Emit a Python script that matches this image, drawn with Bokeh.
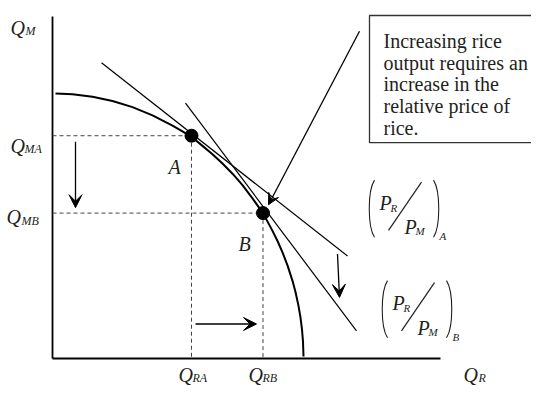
from bokeh.plotting import figure
from bokeh.models import Range1d, Arrow, VeeHead
from bokeh.core.properties import value
from bokeh.embed import file_html
from bokeh.resources import INLINE

# ---- data (diagram units, origin at the axes' corner) ----
ppf_x = [3, 20, 40, 60, 80, 100, 120, 139, 150, 160, 170, 180, 190, 200, 210.5,
         220, 225, 230, 235, 240, 243, 246, 248, 249.5, 250.5, 251]
ppf_y = [268.9, 268.1, 265.6, 261.2, 255, 246.7, 236.3, 225, 215.7, 207.3, 197.9, 187.5,
         175.8, 162.5, 147.5, 129.5, 119.2, 107.7, 94.5, 78.8, 67.4, 53.4, 41.5, 29.4, 17, 2]

point_names = ["A", "B"]
point_x = [139, 210.5]
point_y = [226, 147.5]

tangent_a_x = [49, 295]
tangent_a_y = [300, 104]
tangent_b_x = [133, 304]
tangent_b_y = [259, 28]

axis_y_x = [0, 0]
axis_y_y = [0, 347]
axis_x_x = [0, 388]
axis_x_y = [0, 0]

# arrows: x_start, y_start, x_end, y_end
arrow_note = [307, 332, 216, 156]
arrow_price = [285, 106, 287, 62]
arrow_qm = [23, 220, 23, 153]
arrow_qr = [143, 35, 204, 35]

note_box = [317, 540, 348, 219]   # left, right, top, bottom
note_lines = ["Increasing rice", "output requires an", "increase in the",
              "relative price of", "rice."]
note_x = 331
note_y = [322, 300, 278, 256, 234]

q_main = ["Q", "Q", "Q", "Q", "Q", "Q"]
q_sub = ["M", "MA", "MB", "RA", "RB", "R"]
q_x = [-42, -42, -46, 126, 196, 411]
q_y = [335, 216, 144, -17.2, -17.2, -17.2]
q_sub_x = [-27, -28, -31, 140, 210, 426]
q_sub_y = [332, 213, 140, -19.3, -19.3, -19.3]

pt_label_x = [116, 186]
pt_label_y = [194, 116]

# price ratio labels (A then B)
frac_dx = [0, 13]
frac_dy = [0, -102]
frac_sub = ["A", "B"]

ink = "#231f20"
serif = value("Liberation Serif")

p = figure(width=531, height=385, x_range=Range1d(-52, 479), y_range=Range1d(-27.4, 363.2),
           output_backend="svg", toolbar_location=None, min_border=0)
p.axis.visible = False
p.grid.visible = False
p.outline_line_color = None
p.background_fill_color = "white"
p.border_fill_color = "white"

# text box
p.quad(left=[note_box[0]], right=[note_box[1]], top=[note_box[2]], bottom=[note_box[3]],
       fill_color=None, line_color="#333333", line_width=1.3)
p.text(x=[note_x] * len(note_lines), y=note_y, text=note_lines, text_font=serif,
       text_font_size="20px", text_color=ink, text_baseline="alphabetic", text_align="left")

# axes
p.line(axis_y_x, axis_y_y, line_color="black", line_width=1.8)
p.line(axis_x_x, axis_x_y, line_color="black", line_width=1.8)

# dashed guides
for (px, py) in zip(point_x, point_y):
    p.line([0, px], [py, py], line_color="#444444", line_width=1, line_dash="4 3")
    p.line([px, px], [py, 0], line_color="#444444", line_width=1, line_dash="4 3")

# frontier and price lines
p.line(ppf_x, ppf_y, line_color="black", line_width=2, line_join="round")
p.line(tangent_a_x, tangent_a_y, line_color="black", line_width=1.2)
p.line(tangent_b_x, tangent_b_y, line_color="black", line_width=1.2)

p.scatter(point_x, point_y, size=13, color="black")

# arrows
for arr, sz in [(arrow_note, 11), (arrow_price, 13), (arrow_qm, 13), (arrow_qr, 13)]:
    p.add_layout(Arrow(end=VeeHead(size=sz, fill_color="black", line_color="black"),
                       x_start=arr[0], y_start=arr[1], x_end=arr[2], y_end=arr[3],
                       line_color="black", line_width=1.3))

# Q labels
p.text(x=q_x, y=q_y, text=q_main, text_font=serif, text_font_style="italic",
       text_font_size="20px", text_color=ink, text_baseline="alphabetic")
p.text(x=q_sub_x, y=q_sub_y, text=q_sub, text_font=serif, text_font_style="italic",
       text_font_size="12px", text_color=ink, text_baseline="alphabetic")
p.text(x=pt_label_x, y=pt_label_y, text=point_names, text_font=serif, text_font_style="italic",
       text_font_size="20px", text_color=ink, text_baseline="alphabetic")

# price ratio fractions
for dx, dy, sub in zip(frac_dx, frac_dy, frac_sub):
    p.bezier(x0=[322 + dx], y0=[181 + dy], x1=[322 + dx], y1=[123 + dy],
             cx0=[315 + dx], cy0=[170 + dy], cx1=[315 + dx], cy1=[134 + dy],
             line_color=ink, line_width=1.1)
    p.bezier(x0=[381 + dx], y0=[181 + dy], x1=[381 + dx], y1=[123 + dy],
             cx0=[388 + dx], cy0=[170 + dy], cx1=[388 + dx], cy1=[134 + dy],
             line_color=ink, line_width=1.1)
    p.line([369 + dx, 336 + dx], [179 + dy, 130 + dy], line_color=ink, line_width=1.2)
    p.text(x=[327 + dx, 352 + dx], y=[158 + dy, 133 + dy], text=["P", "P"], text_font=serif,
           text_font_style="italic", text_font_size="20px", text_color=ink,
           text_baseline="alphabetic")
    p.text(x=[338 + dx, 363 + dx, 387 + dx], y=[153 + dy, 129 + dy, 124 + dy],
           text=["R", "M", sub], text_font=serif, text_font_style="italic",
           text_font_size="11px", text_color=ink, text_baseline="alphabetic")

open("out.html", "w").write(file_html(p, INLINE))
